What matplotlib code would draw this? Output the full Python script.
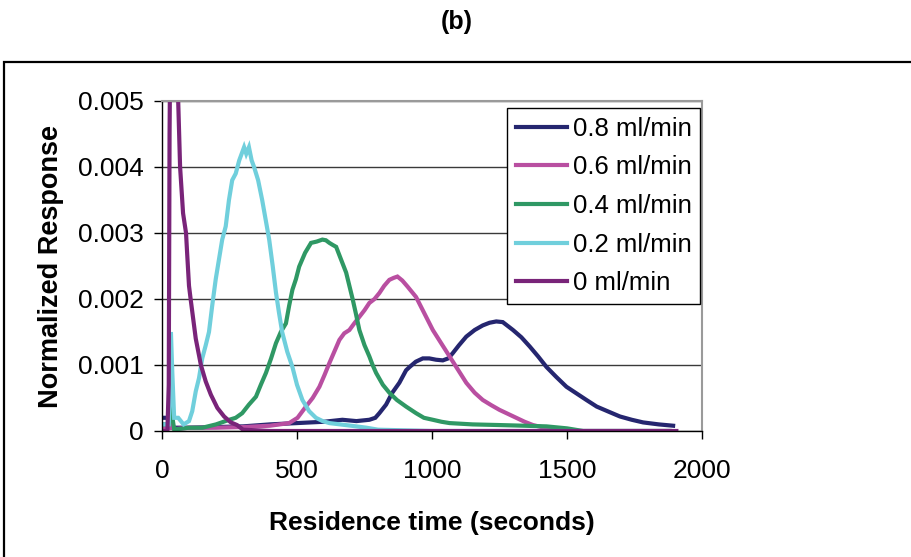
import matplotlib
matplotlib.use('Agg')
import matplotlib.pyplot as plt
from matplotlib.patches import Rectangle

plt.rcParams['font.family'] = ['Liberation Sans', 'DejaVu Sans']

# series (time in s, normalized response)
navy_x = [0, 30, 35, 45, 100, 200, 300, 400, 500, 600, 668, 720, 768, 790, 805, 830, 853, 879, 904, 917,
          940, 966, 990, 1015, 1040, 1060, 1077, 1100, 1127, 1158, 1188, 1213, 1238, 1262, 1300, 1331,
          1362, 1393, 1424, 1460, 1498, 1535, 1572, 1610, 1650, 1696, 1740, 1782, 1840, 1893]
navy_y = [0.0002, 0.0002, 0.00005, 0.00005, 0.00005, 0.00006, 0.00007, 0.0001, 0.00012, 0.00014, 0.00017,
          0.00015, 0.00017, 0.0002, 0.00027, 0.0004, 0.00058, 0.00073, 0.00092, 0.00097, 0.00105, 0.0011,
          0.0011, 0.00108, 0.00107, 0.0011, 0.00118, 0.0013, 0.00143, 0.00153, 0.0016, 0.00164, 0.00166,
          0.00165, 0.00153, 0.00142, 0.00128, 0.00113, 0.00097, 0.00082, 0.00067, 0.00057, 0.00047,
          0.00037, 0.0003, 0.00022, 0.00017, 0.00013, 0.0001, 0.00008]

pink_x = [0, 25, 30, 35, 50, 100, 200, 300, 400, 471, 502, 533, 558, 583, 602, 620, 638, 657, 675, 694,
          712, 731, 750, 768, 787, 805, 823, 842, 858, 872, 890, 909, 941, 972, 1003, 1034, 1065, 1096,
          1127, 1158, 1188, 1220, 1250, 1281, 1312, 1343, 1374, 1405, 1436, 1470, 1500, 1880]
pink_y = [0.00005, 0.00005, 0.0003, 0.00005, 0.00003, 0.00005, 0.00005, 0.00006, 0.00008, 0.00012, 0.0002,
          0.00037, 0.0005, 0.00067, 0.00085, 0.00103, 0.0012, 0.00138, 0.00148, 0.00153, 0.00163, 0.00173,
          0.00183, 0.00194, 0.002, 0.00209, 0.0022, 0.00229, 0.00232, 0.00234, 0.00228, 0.00219, 0.00203,
          0.00178, 0.00153, 0.00133, 0.00113, 0.00093, 0.00073, 0.00058, 0.00047, 0.00039, 0.00032,
          0.00026, 0.0002, 0.00014, 0.00009, 0.00006, 0.00004, 0.00002, 0, 0]

green_x = [0, 25, 30, 35, 45, 60, 100, 150, 200, 249, 273, 297, 322, 348, 366, 385, 404, 422, 440, 459,
           471, 483, 496, 508, 530, 552, 573, 594, 607, 620, 632, 645, 663, 682, 694, 706, 718, 731, 750,
           768, 780, 793, 818, 842, 870, 904, 941, 970, 1003, 1035, 1065, 1150, 1250, 1340, 1424, 1500,
           1560, 1880]
green_y = [0.0001, 0.0001, 0.0007, 0.0003, 0.00003, 0.00003, 0.00005, 0.00005, 0.0001, 0.00017, 0.0002,
           0.00027, 0.0004, 0.00052, 0.0007, 0.00088, 0.0011, 0.00133, 0.0015, 0.00163, 0.0019, 0.00214,
           0.0023, 0.00249, 0.0027, 0.00285, 0.00287, 0.0029, 0.00289, 0.00285, 0.00282, 0.00279, 0.0026,
           0.0024, 0.0022, 0.002, 0.00178, 0.00153, 0.0013, 0.00113, 0.001, 0.00088, 0.0007, 0.00058,
           0.00047, 0.00037, 0.00027, 0.0002, 0.00017, 0.00014, 0.00012, 0.0001, 0.00009, 0.00008,
           0.00007, 0.00004, 0, 0]

cyan_x = [0, 25, 30, 33, 38, 45, 60, 80, 100, 112, 125, 137, 149, 162, 174, 186, 199, 211, 223, 236, 248,
          260, 273, 286, 295, 304, 312, 322, 332, 341, 356, 371, 384, 397, 410, 422, 433, 445, 464, 483,
          500, 520, 545, 570, 595, 620, 660, 700, 757, 800, 1000, 1500, 1880]
cyan_y = [0.0001, 0.0001, 0.0006, 0.0015, 0.0009, 0.0002, 0.0002, 0.0001, 0.00015, 0.0003, 0.0006, 0.0008,
          0.0011, 0.0013, 0.0015, 0.0019, 0.0023, 0.0026, 0.0029, 0.0031, 0.0035, 0.0038, 0.0039, 0.0041,
          0.0042, 0.0043, 0.0042, 0.0043, 0.0041, 0.0040, 0.0038, 0.0035, 0.0032, 0.0029, 0.0025, 0.0021,
          0.0018, 0.0015, 0.0012, 0.00097, 0.0007, 0.00047, 0.0003, 0.0002, 0.00015, 0.00012, 0.0001,
          0.00008, 0.00005, 0.00002, 0, 0, 0]

purple_x = [0, 20, 25, 28, 32, 40, 55, 60, 67, 78, 89, 93, 100, 106, 125, 144, 162, 181, 205, 230, 255,
            278, 300, 400, 1000, 1905]
purple_y = [0, 0, 0.0007, 0.0045, 0.0065, 0.0068, 0.0058, 0.005, 0.004, 0.0033, 0.003, 0.0027, 0.0022,
            0.002, 0.0014, 0.001, 0.00075, 0.00055, 0.00035, 0.00022, 0.00013, 0.00009, 0.00002, 0, 0, 0]

labels = ['0.8 ml/min', '0.6 ml/min', '0.4 ml/min', '0.2 ml/min', '0 ml/min']
colors = ['#25266f', '#b94fa1', '#2f9864', '#70cfdc', '#792479']
xticks = [0, 500, 1000, 1500, 2000]
yticks = [0, 0.001, 0.002, 0.003, 0.004, 0.005]
ytick_labels = ['0', '0.001', '0.002', '0.003', '0.004', '0.005']

fig = plt.figure(figsize=(9.12, 5.57), dpi=100)
ax = fig.add_axes([162 / 912, 1 - 431 / 557, 540 / 912, 330 / 557])

series = [(navy_x, navy_y), (pink_x, pink_y), (green_x, green_y), (cyan_x, cyan_y), (purple_x, purple_y)]
for (xs, ys), lab, c in zip(series, labels, colors):
    ax.plot(xs, ys, color=c, lw=3, label=lab, solid_joinstyle='miter')

ax.set_xlim(0, 2000)
ax.set_ylim(0, 0.005)
ax.set_xticks(xticks)
ax.set_xticklabels([str(t) for t in xticks])
ax.set_yticks(yticks)
ax.set_yticklabels(ytick_labels)
ax.tick_params(axis='both', labelsize=19, length=6, width=1, direction='out', color='black')
ax.tick_params(axis='x', pad=14)
ax.tick_params(axis='y', pad=7)
ax.grid(axis='y', color='#3a3a3a', lw=1)
ax.set_axisbelow(True)
for s in ['left', 'bottom']:
    ax.spines[s].set_color('black')
    ax.spines[s].set_linewidth(1)
for s in ['top', 'right']:
    ax.spines[s].set_color('#9a9a9a')
    ax.spines[s].set_linewidth(1.5)

ax.set_xlabel('Residence time (seconds)', fontsize=19, fontweight='bold', labelpad=20)
ax.set_ylabel('Normalized Response', fontsize=19.5, fontweight='bold', labelpad=10)

leg = ax.legend(loc='upper right', bbox_to_anchor=(0.997, 0.98), fontsize=18.5, frameon=True,
                fancybox=False, edgecolor='black', framealpha=1, handlelength=2.0,
                handletextpad=0.2, labelspacing=0.57, borderpad=0.35, borderaxespad=0)
leg.get_frame().set_linewidth(1)

fig.text(457 / 912, 1 - 22 / 557, '(b)', fontsize=18, fontweight='bold', ha='center', va='center')
fig.patches.append(Rectangle((4 / 912, -0.1), 1.2, 0.1 + 1 - 62 / 557, transform=fig.transFigure,
                             fill=False, edgecolor='black', lw=1.6))

fig.savefig('out.png', dpi=100)
